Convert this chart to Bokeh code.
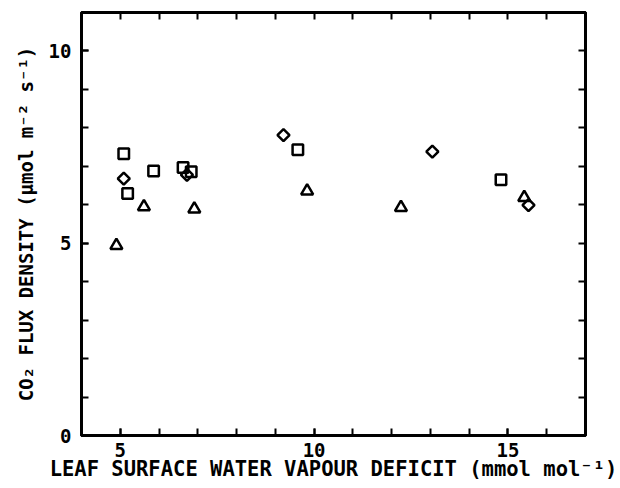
import math
from bokeh.plotting import figure
from bokeh.models import LinearAxis, FixedTicker, Range1d
from bokeh.embed import file_html
from bokeh.resources import INLINE

# ---- data ----
x_label = "LEAF SURFACE WATER VAPOUR DEFICIT (mmol mol⁻¹)"
y_label = "CO₂ FLUX DENSITY (μmol m⁻² s⁻¹)"
x_tick_labels = [5, 10, 15]
y_tick_labels = [0, 5, 10]
x_minor_ticks = list(range(4, 18))
y_minor_ticks = list(range(0, 12))

tri_x = [4.90, 5.61, 6.91, 9.82, 12.24, 15.42]
tri_y = [4.94, 5.95, 5.89, 6.36, 5.93, 6.19]
sq_x = [5.09, 5.19, 5.86, 6.62, 6.83, 9.58, 14.82]
sq_y = [7.33, 6.29, 6.88, 6.97, 6.86, 7.43, 6.65]
dia_x = [5.09, 6.72, 9.21, 13.05, 15.53]
dia_y = [6.68, 6.78, 7.81, 7.38, 5.99]

FONT = "DejaVu Sans Mono"

p = figure(
    frame_width=504, frame_height=423,
    x_range=Range1d(4, 17), y_range=Range1d(0, 11),
    output_backend="svg", toolbar_location=None,
    x_axis_type=None, y_axis_type=None,
    min_border_left=81, min_border_top=12, min_border_right=35, min_border_bottom=40,
)
p.background_fill_color = "white"
p.border_fill_color = "white"
p.outline_line_color = "black"
p.outline_line_width = 3
p.grid.visible = False


def style_axis(ax, ticks, minor, show_labels):
    ax.ticker = FixedTicker(ticks=ticks if show_labels else [], minor_ticks=minor)
    ax.axis_line_color = "black"
    ax.axis_line_width = 3
    ax.major_tick_in = 7
    ax.major_tick_out = 0
    ax.minor_tick_in = 7
    ax.minor_tick_out = 0
    ax.major_tick_line_width = 2
    ax.minor_tick_line_width = 2
    ax.major_tick_line_color = "black"
    ax.minor_tick_line_color = "black"
    ax.major_label_text_font = FONT
    ax.major_label_text_font_style = "bold"
    ax.major_label_text_font_size = "19px"
    ax.major_label_text_color = "black"
    ax.axis_label_text_color = "black"
    if not show_labels:
        ax.major_label_standoff = 0


xb = LinearAxis()
style_axis(xb, x_tick_labels, x_minor_ticks, True)
xb.major_label_standoff = 7
xb.axis_label = x_label
xb.axis_label_text_font = FONT
xb.axis_label_text_font_style = "bold"
xb.axis_label_text_font_size = "20.5px"
xb.axis_label_standoff = -3
p.add_layout(xb, "below")

yl = LinearAxis()
style_axis(yl, y_tick_labels, y_minor_ticks, True)
yl.major_label_standoff = 10
yl.axis_label = y_label
yl.axis_label_text_font = FONT
yl.axis_label_text_font_style = "bold"
yl.axis_label_text_font_size = "19px"
yl.axis_label_standoff = 9
p.add_layout(yl, "left")

xt = LinearAxis()
style_axis(xt, x_tick_labels, x_minor_ticks, False)
p.add_layout(xt, "above")

yr = LinearAxis()
style_axis(yr, y_tick_labels, y_minor_ticks, False)
p.add_layout(yr, "right")

p.scatter(tri_x, tri_y, marker="triangle", size=12, fill_color=None,
          line_color="black", line_width=2.5)
p.scatter(sq_x, sq_y, marker="square", size=10.5, fill_color=None,
          line_color="black", line_width=2.5)
p.scatter(dia_x, dia_y, marker="square", angle=math.pi / 4, size=8.5,
          fill_color=None, line_color="black", line_width=2.5)

open("out.html", "w").write(file_html(p, INLINE))
